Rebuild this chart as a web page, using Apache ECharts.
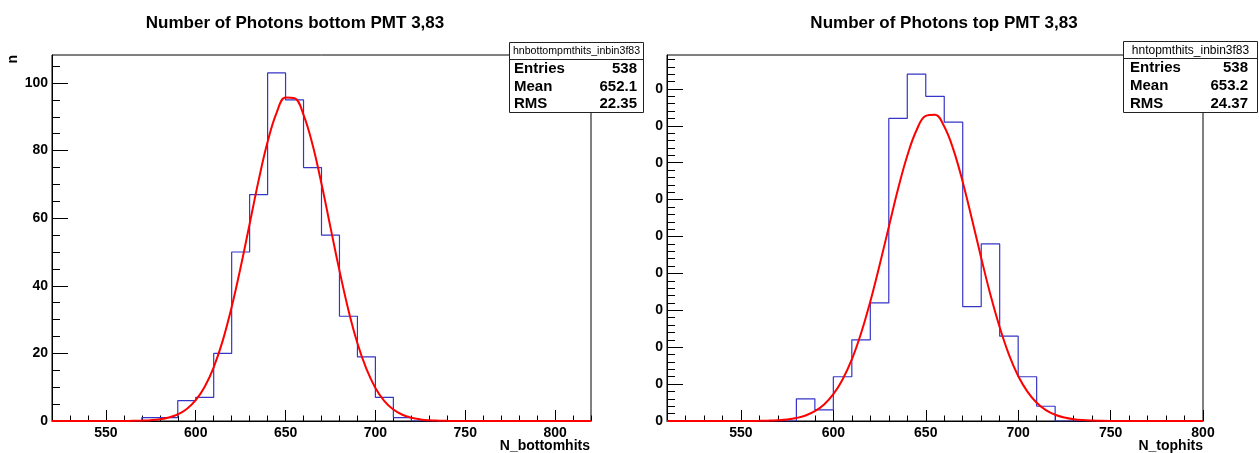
<!DOCTYPE html>
<html><head><meta charset="utf-8">
<script src="https://cdn.jsdelivr.net/npm/echarts@6/dist/echarts.min.js"></script>
<style>html,body{margin:0;padding:0;background:#fff}#c{width:1259px;height:453px}</style>
</head><body><div id="c"></div><script>
const FONT = '"Liberation Sans", Arial, Helvetica, sans-serif';

// ---------- data ----------
const binWidth = 10;
const bottomBinLow = [570, 580, 590, 600, 610, 620, 630, 640, 650, 660, 670, 680, 690, 700, 710];
const bottomCounts = [1, 1, 6, 7, 20, 50, 67, 103, 95, 75, 55, 31, 19, 7, 1];
const topBinLow = [580, 590, 600, 610, 620, 630, 640, 650, 660, 670, 680, 690, 700, 710];
const topCounts = [6, 3, 12, 22, 32, 82, 94, 88, 81, 31, 48, 23, 12, 4];

const bottomFitX = [520, 540, 550, 555, 560, 565, 570, 575, 580, 585, 590, 595, 600, 605, 610, 615, 620, 625, 630, 635, 640, 645, 650, 655, 660, 665, 670, 675, 680, 685, 690, 695, 700, 705, 710, 715, 720, 725, 730, 735, 740, 745, 750, 760, 820];
const bottomFitY = [0, 0, 0, 0.01, 0.02, 0.05, 0.11, 0.24, 0.50, 1.01, 1.94, 3.54, 6.15, 10.15, 15.9, 23.7, 33.7, 45.5, 58.3, 71.2, 82.6, 91.2, 95.7, 95.5, 90.6, 81.8, 70.2, 57.3, 44.5, 32.8, 23.0, 15.4, 9.76, 5.9, 3.39, 1.85, 0.96, 0.47, 0.22, 0.10, 0.04, 0.02, 0.01, 0, 0];
const topFitX = [510, 540, 550, 555, 560, 565, 570, 575, 580, 585, 590, 595, 600, 605, 610, 615, 620, 625, 630, 635, 640, 645, 650, 655, 660, 665, 670, 675, 680, 685, 690, 695, 700, 705, 710, 715, 720, 725, 730, 735, 740, 745, 750, 760, 800];
const topFitY = [0, 0, 0.01, 0.02, 0.05, 0.10, 0.21, 0.42, 0.82, 1.50, 2.66, 4.49, 7.27, 11.27, 16.7, 23.8, 32.4, 42.2, 52.6, 62.9, 71.9, 78.8, 82.7, 83.0, 79.8, 73.5, 64.8, 54.7, 44.2, 34.2, 25.4, 18.0, 12.2, 7.96, 4.96, 2.96, 1.69, 0.93, 0.48, 0.24, 0.12, 0.05, 0.02, 0.01, 0];

const bottomXRange = [520, 820];
const bottomYRange = [0, 108.3];
const topXRange = [510, 800];
const topYRange = [0, 99.2];

const bottomXTicks = [550, 600, 650, 700, 750, 800];
const bottomXTickLabels = ['550', '600', '650', '700', '750', '800'];
const bottomYTicks = [0, 20, 40, 60, 80, 100];
const bottomYTickLabels = ['0', '20', '40', '60', '80', '100'];
const topXTicks = [550, 600, 650, 700, 750, 800];
const topXTickLabels = ['550', '600', '650', '700', '750', '800'];
const topYTicks = [0, 10, 20, 30, 40, 50, 60, 70, 80, 90];
const topYTickLabels = ['0', '0', '0', '0', '0', '0', '0', '0', '0', '0'];

const titles = ['Number of Photons bottom PMT 3,83', 'Number of Photons top PMT 3,83'];
const xTitles = ['N_bottomhits', 'N_tophits'];
const yTitles = ['n', ''];
const statNames = ['hnbottompmthits_inbin3f83', 'hntopmthits_inbin3f83'];
const statLabels = ['Entries', 'Mean', 'RMS'];
const statValues = [['538', '652.1', '22.35'], ['538', '653.2', '24.37']];

// ---------- helpers ----------
function range(a, b, s) { const r = []; for (let v = a; v <= b + 1e-9; v += s) r.push(+v.toFixed(6)); return r; }
function stepPoints(low, counts, xr) {
  const pts = [[xr[0], 0], [low[0], 0]];
  for (let i = 0; i < low.length; i++) pts.push([low[i], counts[i]]);
  pts.push([low[low.length - 1] + binWidth, 0], [xr[1], 0]);
  return pts;
}
function zip(xs, ys) { return xs.map((x, i) => [x, ys[i]]); }
function labelFmt(ticks, labels) { return v => { const i = ticks.indexOf(v); return i >= 0 ? labels[i] : ''; }; }

const labelStyle = { color: '#000', fontSize: 14, fontWeight: 'bold', fontFamily: FONT };

function mainX(grid, r, ticks, labels) {
  return { type: 'value', gridIndex: grid, min: r[0], max: r[1], position: 'bottom',
    axisLine: { show: true, onZero: false, lineStyle: { color: '#000', width: 1 } },
    axisTick: { show: true, inside: true, length: 11, customValues: ticks, lineStyle: { color: '#000' } },
    axisLabel: Object.assign({ show: true, margin: 5, customValues: ticks, formatter: labelFmt(ticks, labels) }, labelStyle),
    splitLine: { show: false } };
}
function minorX(grid, r, ticks) {
  return { type: 'value', gridIndex: grid, min: r[0], max: r[1], position: 'bottom',
    axisLine: { show: false, onZero: false },
    axisTick: { show: true, inside: true, length: 5.5, customValues: ticks, lineStyle: { color: '#000' } },
    axisLabel: { show: false }, splitLine: { show: false } };
}
function mainY(grid, r, ticks, labels) {
  return { type: 'value', gridIndex: grid, min: r[0], max: r[1], position: 'left',
    axisLine: { show: true, onZero: false, lineStyle: { color: '#000', width: 1 } },
    axisTick: { show: true, inside: true, length: 16, customValues: ticks, lineStyle: { color: '#000' } },
    axisLabel: Object.assign({ show: true, margin: 4, customValues: ticks, formatter: labelFmt(ticks, labels) }, labelStyle),
    splitLine: { show: false } };
}
function minorY(grid, r, ticks) {
  return { type: 'value', gridIndex: grid, min: r[0], max: r[1], position: 'left',
    axisLine: { show: false, onZero: false },
    axisTick: { show: true, inside: true, length: 8, customValues: ticks, lineStyle: { color: '#000' } },
    axisLabel: { show: false }, splitLine: { show: false } };
}

const grids = [
  { left: 52, top: 55, width: 539, height: 366 },
  { left: 667, top: 55, width: 536, height: 366 }
];

function statBox(k, x, y, w, h, hdrH, padL, padR, hdrFont) {
  const els = [];
  els.push({ type: 'rect', z: 100, shape: { x: x + 0.5, y: y + 0.5, width: w, height: h }, style: { fill: '#fff', stroke: '#222', lineWidth: 1 } });
  els.push({ type: 'line', z: 101, shape: { x1: x + 0.5, y1: y + hdrH + 0.5, x2: x + w + 0.5, y2: y + hdrH + 0.5 }, style: { stroke: '#222', lineWidth: 1 } });
  els.push({ type: 'text', z: 102, x: x + w / 2 + 0.5, y: y + hdrH / 2 + 1, style: { text: statNames[k], fontSize: hdrFont, fontFamily: FONT, fill: '#000', align: 'center', verticalAlign: 'middle' } });
  const rowH = (h - hdrH) / 3;
  for (let i = 0; i < 3; i++) {
    const cy = y + hdrH + rowH * (i + 0.5) + 1;
    els.push({ type: 'text', z: 102, x: x + padL, y: cy, style: { text: statLabels[i], fontSize: 15, fontWeight: 'bold', fontFamily: FONT, fill: '#000', align: 'left', verticalAlign: 'middle' } });
    els.push({ type: 'text', z: 102, x: x + w - padR, y: cy, style: { text: statValues[k][i], fontSize: 15, fontWeight: 'bold', fontFamily: FONT, fill: '#000', align: 'right', verticalAlign: 'middle' } });
  }
  return els;
}

const graphic = [].concat(
  [{ type: 'text', z: 102, x: 295, y: 23, style: { text: titles[0], fontSize: 17, fontWeight: 'bold', fontFamily: FONT, fill: '#000', align: 'center', verticalAlign: 'middle' } },
   { type: 'text', z: 102, x: 944, y: 23, style: { text: titles[1], fontSize: 17, fontWeight: 'bold', fontFamily: FONT, fill: '#000', align: 'center', verticalAlign: 'middle' } },
   { type: 'text', z: 102, x: 590, y: 446, style: { text: xTitles[0], fontSize: 14, fontWeight: 'bold', fontFamily: FONT, fill: '#000', align: 'right', verticalAlign: 'middle' } },
   { type: 'text', z: 102, x: 1203, y: 446, style: { text: xTitles[1], fontSize: 14, fontWeight: 'bold', fontFamily: FONT, fill: '#000', align: 'right', verticalAlign: 'middle' } },
   { type: 'text', z: 102, x: 13, y: 55, rotation: Math.PI / 2, style: { text: yTitles[0], fontSize: 14, fontWeight: 'bold', fontFamily: FONT, fill: '#000', align: 'right', verticalAlign: 'middle' } }],
  statBox(0, 509, 42, 134, 70, 17, 5, 6, 10.6),
  statBox(1, 1123, 41, 134, 71, 17, 7, 9, 12)
);

const histStyle = { color: '#3535c8', width: 1.2 };
const fitStyle = { color: '#ff0000', width: 2 };

const option = {
  animation: false,
  backgroundColor: '#fff',
  grid: grids.map(g => Object.assign({ show: true, borderColor: '#000', borderWidth: 1, backgroundColor: 'transparent', containLabel: false }, g)),
  xAxis: [
    mainX(0, bottomXRange, bottomXTicks, bottomXTickLabels),
    minorX(0, bottomXRange, range(530, 820, 10)),
    mainX(1, topXRange, topXTicks, topXTickLabels),
    minorX(1, topXRange, range(510, 800, 10))
  ],
  yAxis: [
    mainY(0, bottomYRange, bottomYTicks, bottomYTickLabels),
    minorY(0, bottomYRange, range(0, 105, 5)),
    mainY(1, topYRange, topYTicks, topYTickLabels),
    minorY(1, topYRange, range(0, 98, 2))
  ],
  series: [
    { type: 'line', xAxisIndex: 0, yAxisIndex: 0, step: 'end', symbol: 'none', data: stepPoints(bottomBinLow, bottomCounts, bottomXRange), lineStyle: histStyle, z: 3 },
    { type: 'line', xAxisIndex: 0, yAxisIndex: 0, smooth: 0.4, symbol: 'none', data: zip(bottomFitX, bottomFitY), lineStyle: fitStyle, z: 4, clip: true },
    { type: 'line', xAxisIndex: 2, yAxisIndex: 2, step: 'end', symbol: 'none', data: stepPoints(topBinLow, topCounts, topXRange), lineStyle: histStyle, z: 3 },
    { type: 'line', xAxisIndex: 2, yAxisIndex: 2, smooth: 0.4, symbol: 'none', data: zip(topFitX, topFitY), lineStyle: fitStyle, z: 4, clip: true }
  ],
  graphic: graphic
};

const chart = echarts.init(document.getElementById('c'), null, { renderer: 'canvas' });
chart.setOption(option);
</script></body></html>
